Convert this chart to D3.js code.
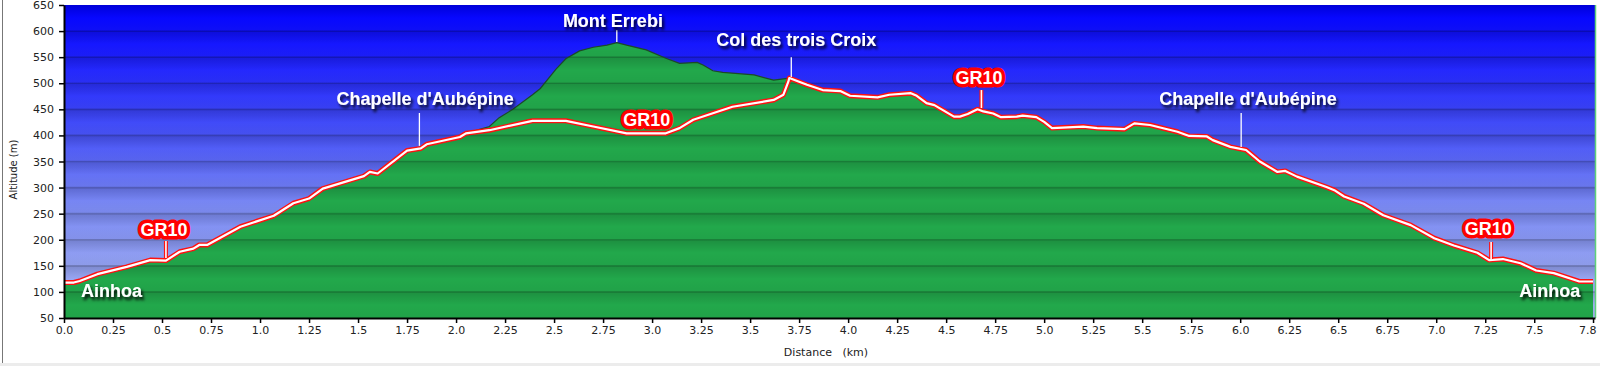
<!DOCTYPE html>
<html><head><meta charset="utf-8">
<script src="https://cdn.jsdelivr.net/npm/d3@7"></script>
<style>
html,body{margin:0;padding:0;background:#fff;}
svg{display:block;}
</style></head>
<body>
<svg id="chart" width="1600" height="366"></svg>
<script>
// Main profile (distance km, altitude m) — via Mont Errebi
const mainDist = [0.00,0.05,0.08,0.17,0.32,0.44,0.52,0.59,0.66,0.69,0.73,0.90,1.07,1.17,1.25,1.32,1.53,1.56,1.60,1.75,1.82,1.85,2.02,2.05,
  2.17,2.22,2.29,2.39,2.43,2.51,2.56,2.63,2.70,2.77,2.82,2.87,2.97,3.07,3.14,3.23,3.26,3.31,3.36,3.52,3.62,3.70,
  3.79,3.87,3.96,4.01,4.15,4.21,4.32,4.35,4.40,4.44,4.54,4.57,4.61,4.66,4.69,4.74,4.78,4.86,4.89,4.96,5.00,5.04,
  5.20,5.27,5.41,5.46,5.54,5.68,5.74,5.83,5.86,5.95,6.03,6.10,6.19,6.23,6.29,6.44,6.48,6.53,6.63,6.73,6.87,6.99,
  7.09,7.21,7.27,7.34,7.43,7.51,7.60,7.73,7.80];
const mainAlt = [118,118,121,134,148,161,160,177,183,190,190,225,246,270,279,298,322,330,327,371,375,383,397,404,
  417,434,450,478,490,527,547,562,569,573,578,573,564,548,538,540,535,524,521,516,506,510,
  497,487,485,476,473,478,481,476,462,458,436,436,441,450,446,442,435,436,438,435,426,414,
  417,414,412,423,420,407,399,398,391,378,372,350,330,332,321,301,295,283,269,247,228,203,
  189,175,161,163,155,141,136,120,120];
// GR10 variant between 2.05 km and the Col des trois Croix
const gr10Dist = [2.05,2.17,2.39,2.56,2.70,2.87,3.07,3.14,3.21,3.41,3.62,3.67,3.695,3.70];
const gr10Alt  = [404,410,428,428,417,404,404,414,430,455,468,478,503,510];
const gr10Split = [2.05, 3.70];

const yTicks = [50,100,150,200,250,300,350,400,450,500,550,600,650];
const xTicks = [0,0.25,0.5,0.75,1,1.25,1.5,1.75,2,2.25,2.5,2.75,3,3.25,3.5,3.75,4,4.25,4.5,4.75,5,5.25,5.5,5.75,6,6.25,6.5,6.75,7,7.25,7.5,7.8];

// Waypoint labels: text, distance, altitude of baseline, anchor
const placeNames = ["Ainhoa","GR10","Chapelle d'Aubépine","Mont Errebi","GR10","Col des trois Croix","GR10","Chapelle d'Aubépine","GR10","Ainhoa"];
const placeDist  = [0.087,0.51,1.842,2.80,2.973,3.735,4.668,6.04,7.265,7.735];
const placeAlt   = [90,208,458,608,419,571,499.5,458,210,90];
const placeAnchor= ["start","middle","middle","middle","middle","middle","middle","middle","middle","end"];
// Leader lines: distance, from altitude, to altitude, kind
const leaderDist = [0.52,1.813,2.82,3.71,4.68,6.005,7.28];
const leaderTop  = [197.6,443,602,550,487,443,195.7];
const leaderBot  = [165,380,579,512,452.5,378,163];
const leaderKind = ["gr","w","w","w","gr","w","gr"];

const svg = d3.select("#chart");
const L=64, R=1595, T=5, B=318;
const x = d3.scaleLinear().domain([0,7.81]).range([L,R]);
const y = d3.scaleLinear().domain([50,650]).range([B,T]);

const defs = svg.append("defs");
const sky = defs.append("linearGradient").attr("id","sky").attr("x1",0).attr("y1",0).attr("x2",0).attr("y2",1);
[[0,"#0000ff"],[0.15,"#1a1cff"],[0.4,"#4550f8"],[0.65,"#7c8bf3"],[0.85,"#95a3f2"],[1,"#a6b3f4"]]
  .forEach(s=>sky.append("stop").attr("offset",s[0]).attr("stop-color",s[1]));
const band = defs.append("linearGradient").attr("id","band").attr("x1",0).attr("y1",0).attr("x2",0).attr("y2",1);
[[0,0.15],[0.5,0],[1,0.04]].forEach(s=>band.append("stop").attr("offset",s[0]).attr("stop-color","#000").attr("stop-opacity",s[1]));
const sh = defs.append("filter").attr("id","shadow").attr("x","-20%").attr("y","-50%").attr("width","140%").attr("height","200%");
sh.append("feDropShadow").attr("dx",2).attr("dy",3).attr("stdDeviation",1.6).attr("flood-color","#000").attr("flood-opacity",0.9);

// outer frame
svg.append("line").attr("x1",2.5).attr("x2",2.5).attr("y1",0).attr("y2",363).attr("stroke","#777").attr("stroke-width",1);
svg.append("rect").attr("x",0).attr("y",363).attr("width",1600).attr("height",3).attr("fill","#ececec");

// sky
svg.append("rect").attr("x",L).attr("y",T).attr("width",R-L).attr("height",B-T).attr("fill","url(#sky)");

const main = mainDist.map((d,i)=>({d, a: mainAlt[i]}));
const variant = gr10Dist.map((d,i)=>({d, a: gr10Alt[i]}));
const route = main.filter(p=>p.d<=gr10Split[0]).concat(variant.slice(1,-1)).concat(main.filter(p=>p.d>=gr10Split[1]));

const area = d3.area().x(p=>x(p.d)).y0(y(50)).y1(p=>y(p.a));
const line = d3.line().x(p=>x(p.d)).y(p=>y(p.a));

svg.append("path").datum(main).attr("d",area).attr("fill","#22a84b");

// bands & gridlines
const bandG = svg.append("g");
yTicks.slice(0,-1).forEach(v=>{
  bandG.append("rect").attr("x",L).attr("width",R-L).attr("y",y(v+50)).attr("height",y(v)-y(v+50)).attr("fill","url(#band)");
});
yTicks.slice(1,-1).forEach(v=>{
  bandG.append("line").attr("x1",L).attr("x2",R).attr("y1",y(v)).attr("y2",y(v)).attr("stroke","#000").attr("stroke-opacity",0.18).attr("stroke-width",1.6);
});

// upper outline
svg.append("path").datum(main).attr("d",line).attr("fill","none").attr("stroke","#1d4a26").attr("stroke-width",1.2);

// GR10 route line
svg.append("path").datum(route).attr("d",line).attr("fill","none").attr("stroke","#ff1010").attr("stroke-width",5).attr("stroke-linejoin","round");
svg.append("path").datum(route).attr("d",line).attr("fill","none").attr("stroke","#fff").attr("stroke-width",2.2).attr("stroke-linejoin","round");

// right border
svg.append("line").attr("x1",R+0.5).attr("x2",R+0.5).attr("y1",T).attr("y2",B).attr("stroke","#5fd07a").attr("stroke-width",1.5);

// leaders
leaderDist.forEach((d,i)=>{
  if(leaderKind[i]==="gr"){
    svg.append("line").attr("x1",x(d)).attr("x2",x(d)).attr("y1",y(leaderTop[i])).attr("y2",y(leaderBot[i])).attr("stroke","#ff1010").attr("stroke-width",4);
    svg.append("line").attr("x1",x(d)).attr("x2",x(d)).attr("y1",y(leaderTop[i])).attr("y2",y(leaderBot[i])).attr("stroke","#fff").attr("stroke-width",1.6);
  } else {
    svg.append("line").attr("x1",x(d)).attr("x2",x(d)).attr("y1",y(leaderTop[i])).attr("y2",y(leaderBot[i])).attr("stroke","#fff").attr("stroke-width",1.3);
  }
});

// labels
placeNames.forEach((t,i)=>{
  const txt = svg.append("text").attr("x",x(placeDist[i])).attr("y",y(placeAlt[i]))
    .attr("text-anchor",placeAnchor[i]).attr("font-family","'Liberation Sans',Arial,sans-serif")
    .attr("font-weight","bold").attr("font-size",18).attr("fill","#fff").text(t);
  if(t==="GR10"){
    txt.attr("stroke","#f00").attr("stroke-width",7).attr("stroke-linejoin","round").attr("paint-order","stroke");
  } else {
    txt.attr("filter","url(#shadow)");
  }
});

// axes
const fmt = v => Number.isInteger(v) ? v.toFixed(1) : String(v);
const xAxis = d3.axisBottom(x).tickValues(xTicks).tickFormat(fmt).tickSize(5).tickSizeOuter(0).tickPadding(3);
const yAxis = d3.axisLeft(y).tickValues(yTicks).tickFormat(d3.format("d")).tickSize(5).tickSizeOuter(0).tickPadding(5);
const gx = svg.append("g").attr("transform",`translate(0,${B})`).call(xAxis);
const gy = svg.append("g").attr("transform",`translate(${L},0)`).call(yAxis);
[gx,gy].forEach(g=>{
  g.select(".domain").attr("stroke","#000").attr("stroke-width",2);
  g.selectAll(".tick line").attr("stroke","#000").attr("stroke-width",1.5);
  g.selectAll("text").attr("font-family","'DejaVu Sans',Verdana,sans-serif").attr("font-size",11).attr("fill","#222");
});
// keep the last tick label inside the picture
gx.selectAll(".tick").filter(d=>d===xTicks[xTicks.length-1]).select("text").attr("text-anchor","end").attr("dx",3);

svg.append("text").attr("transform",`translate(17,${(T+B)/2+8}) rotate(-90)`).attr("text-anchor","middle")
  .attr("font-family","'DejaVu Sans',Verdana,sans-serif").attr("font-size",10).attr("fill","#222").text("Altitude (m)");
svg.append("text").attr("x",826).attr("y",356).attr("text-anchor","middle").style("white-space","pre")
  .attr("font-family","'DejaVu Sans',Verdana,sans-serif").attr("font-size",11).attr("fill","#222").text("Distance   (km)");
</script>
</body></html>
